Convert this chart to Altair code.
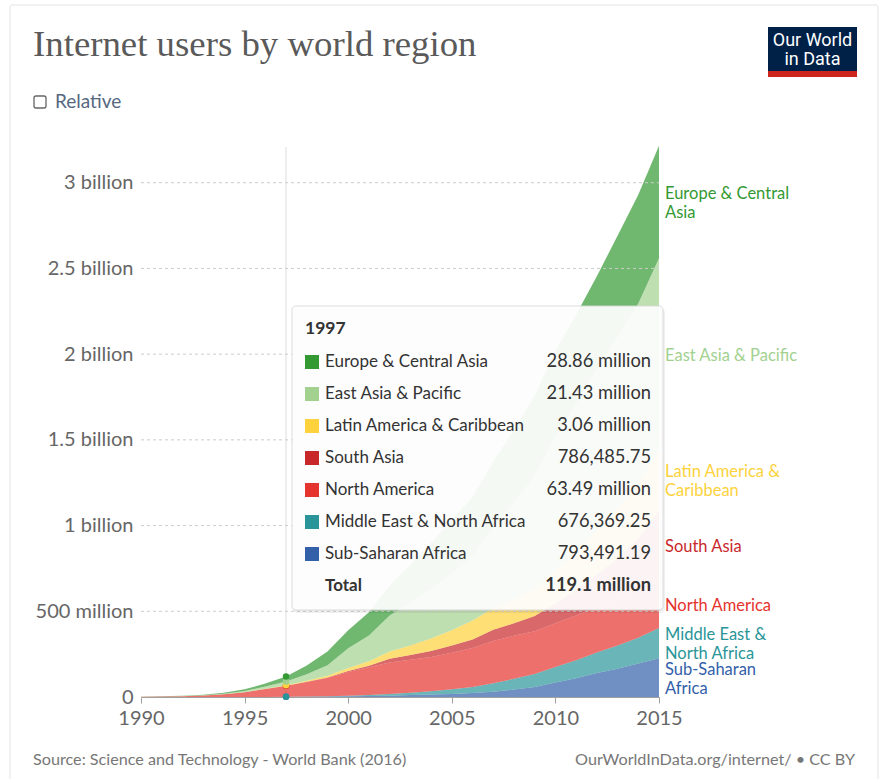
import altair as alt
import pandas as pd

# ---------------- data (millions of internet users) ----------------
years = list(range(1990, 2016))
regions = ["Sub-Saharan Africa", "Middle East & North Africa", "North America",
           "South Asia", "Latin America & Caribbean", "East Asia & Pacific",
           "Europe & Central Asia"]
label_text = ["Sub-Saharan\nAfrica", "Middle East &\nNorth Africa", "North America",
              "South Asia", "Latin America &\nCaribbean", "East Asia & Pacific",
              "Europe & Central\nAsia"]
colors = ["#3360a9", "#2a9598", "#e5332d", "#c9282b", "#fdd23c", "#a2d18f", "#339933"]

ssa = [0.0, 0.0, 0.01, 0.02, 0.05, 0.15, 0.4, 0.79349119, 1.4, 2.3, 4, 6, 8, 11, 14, 18,
       23, 30, 44, 58, 85, 110, 140, 165, 195, 226]
mena = [0.0, 0.0, 0.01, 0.02, 0.04, 0.1, 0.3, 0.67636925, 1.2, 2.2, 4, 6, 10, 14, 20, 27,
        35, 50, 62, 76, 90, 105, 120, 135, 150, 176]
na = [2.0, 3.2, 4.8, 9.0, 16, 27, 46, 63.49, 85, 106, 138, 162, 183, 192, 200, 213,
      228, 247, 252, 250, 255, 260, 265, 270, 275, 278]
sa = [0.0, 0.0, 0.0, 0.0, 0.01, 0.05, 0.3, 0.78648575, 1.5, 3, 6, 9, 22, 28, 35, 42,
      50, 65, 72, 88, 115, 150, 190, 240, 305, 410]
lac = [0.0, 0.02, 0.05, 0.1, 0.3, 0.7, 1.6, 3.06, 6, 10, 17, 26, 42, 55, 72, 90,
       110, 125, 140, 160, 195, 225, 260, 290, 320, 350]
eap = [0.2, 0.4, 0.8, 1.6, 3.2, 7.0, 12.5, 21.43, 37, 62, 115, 150, 210, 250, 290, 330,
       380, 470, 560, 660, 780, 860, 940, 1000, 1050, 1120]
eca = [0.4, 0.8, 1.4, 2.6, 5.2, 10, 17, 28.86, 52, 80, 106, 135, 175, 220, 270, 310,
       340, 385, 430, 465, 500, 520, 540, 590, 635, 655]
series = [ssa, mena, na, sa, lac, eap, eca]

y_ticks = [0, 5e8, 1e9, 1.5e9, 2e9, 2.5e9, 3e9]
x_ticks = [1990, 1995, 2000, 2005, 2010, 2015]
hover_year = 1997

# ---------------- tables ----------------
rows = []
for i, (r, s) in enumerate(zip(regions, series)):
    for y, v in zip(years, s):
        rows.append({"year": y, "region": r, "idx": i, "users": v * 1e6})
df = pd.DataFrame(rows)

last = len(years) - 1
hi = years.index(hover_year)
cum = 0.0
cum_h = 0.0
lab_rows, dot_rows = [], []
for i, (r, s) in enumerate(zip(regions, series)):
    lab_rows.append({"region": r, "text": label_text[i],
                     "lines": label_text[i].count("\n") + 1,
                     "mid": (cum + s[last] / 2) * 1e6})
    cum += s[last]
    cum_h += s[hi]
    dot_rows.append({"region": r, "idx": i, "year": hover_year, "top": cum_h * 1e6})
lab_df = pd.DataFrame(lab_rows)
dot_df = pd.DataFrame(dot_rows)
grid_df = pd.DataFrame({"v": y_ticks[1:]})


def fmt(v):
    return f"{v / 1e6:.4g} million" if v >= 1e6 else f"{v:,.2f}"


tt_rows = []
for k, i in enumerate(reversed(range(len(regions)))):
    v = series[i][hi] * 1e6
    tt_rows.append({"row": k, "region": regions[i], "name": regions[i], "val": fmt(v)})
total = sum(s[hi] for s in series) * 1e6
tt_df = pd.DataFrame(tt_rows)
tot_df = pd.DataFrame([{"row": len(regions), "name": "Total", "val": fmt(total)}])

one = pd.DataFrame({"a": [0]})
FONT = "Lato"

cscale = alt.Scale(domain=regions, range=colors)
xscale = alt.Scale(domain=[1990, 2015], nice=False, zero=False)
yscale = alt.Scale(domain=[0, 3.22e9], nice=False)

# ---------------- layers ----------------
card = alt.Chart(one).mark_rect(fill="white", fillOpacity=0, stroke="#e3e3e3",
                                strokeWidth=1, cornerRadius=2).encode(
    x=alt.value(-131), x2=alt.value(737), y=alt.value(-140), y2=alt.value(660))

vline = alt.Chart(pd.DataFrame({"year": [hover_year]})).mark_rule(color="#dddddd", strokeWidth=1).encode(
    x=alt.X("year:Q", scale=xscale), y=alt.value(2), y2=alt.value(552))

area = alt.Chart(df).mark_area(opacity=0.7, interpolate="linear").encode(
    x=alt.X("year:Q", scale=xscale,
            axis=alt.Axis(values=x_ticks, format="d", title=None, grid=False,
                          domainColor="#a0a0a0", tickColor="#a0a0a0", tickSize=6,
                          labelFontSize=20, labelColor="#666666", labelPadding=5,
                          labelFlush=False, labelOverlap=False, labelFont=FONT)),
    y=alt.Y("users:Q", stack="zero", scale=yscale,
            axis=alt.Axis(values=y_ticks, title=None, domain=False, ticks=False,
                          grid=False, labelFontSize=20, labelColor="#666666",
                          labelPadding=8, labelFont=FONT, labelFlush=False,
                          labelOverlap=False,
                          labelExpr="datum.value == 0 ? '0' : (datum.value < 1e9 ? (datum.value/1e6) + ' million' : (datum.value/1e9) + ' billion')")),
    color=alt.Color("region:N", scale=cscale, legend=None),
    order=alt.Order("idx:Q", sort="ascending"),
)

grid = alt.Chart(grid_df).mark_rule(color="#cccccc", strokeDash=[3, 3], strokeWidth=1).encode(
    y=alt.Y("v:Q", scale=yscale), x=alt.value(0), x2=alt.value(518))

dots = alt.Chart(dot_df).mark_circle(size=42, opacity=1).encode(
    x=alt.X("year:Q", scale=xscale),
    y=alt.Y("top:Q", scale=yscale),
    color=alt.Color("region:N", scale=cscale, legend=None),
    order=alt.Order("idx:Q"),
)

LAB_LH = 19
labels1 = alt.Chart(lab_df).transform_filter("datum.lines == 1").mark_text(
    align="left", baseline="middle", fontSize=16.5, font=FONT, dy=2).encode(
    x=alt.value(524),
    y=alt.Y("mid:Q", scale=yscale),
    text="text:N",
    color=alt.Color("region:N", scale=cscale, legend=None),
)
labels2 = alt.Chart(lab_df).transform_filter("datum.lines == 2").mark_text(
    align="left", baseline="middle", fontSize=16.5, font=FONT, lineBreak="\n",
    lineHeight=LAB_LH, dy=-LAB_LH / 2 + 1.5).encode(
    x=alt.value(524),
    y=alt.Y("mid:Q", scale=yscale),
    text="text:N",
    color=alt.Color("region:N", scale=cscale, legend=None),
)

# tooltip box
tt_shadow = alt.Chart(one).mark_rect(fill="#000000", opacity=0.06, cornerRadius=5).encode(
    x=alt.value(152), x2=alt.value(524), y=alt.value(163), y2=alt.value(468))
tt_box = alt.Chart(one).mark_rect(fill="white", opacity=0.93, stroke="#d9d9d9",
                                  strokeWidth=1, cornerRadius=4).encode(
    x=alt.value(151), x2=alt.value(522), y=alt.value(161), y2=alt.value(465))
tt_year = alt.Chart(one).mark_text(align="left", baseline="middle", fontSize=17.5,
                                   fontWeight="bold", color="#333333", font=FONT).encode(
    x=alt.value(164), y=alt.value(184), text=alt.value(str(hover_year)))

ROWY = "217 + 32 * datum.row"
tt_sw = alt.Chart(tt_df).transform_calculate(py=ROWY).mark_square(size=196, opacity=1).encode(
    x=alt.value(171), y=alt.Y("py:Q", scale=None, axis=None),
    color=alt.Color("region:N", scale=cscale, legend=None))
tt_name = alt.Chart(tt_df).transform_calculate(py=ROWY).mark_text(
    align="left", baseline="middle", fontSize=17, color="#333333", font=FONT).encode(
    x=alt.value(184), y=alt.Y("py:Q", scale=None, axis=None), text="name:N")
tt_val = alt.Chart(tt_df).transform_calculate(py=ROWY).mark_text(
    align="right", baseline="middle", fontSize=18.3, color="#333333", font=FONT).encode(
    x=alt.value(510), y=alt.Y("py:Q", scale=None, axis=None), text="val:N")
tt_tname = alt.Chart(tot_df).transform_calculate(py=ROWY).mark_text(
    align="left", baseline="middle", fontSize=17, fontWeight="bold", color="#333333", font=FONT).encode(
    x=alt.value(184), y=alt.Y("py:Q", scale=None, axis=None), text="name:N")
tt_tval = alt.Chart(tot_df).transform_calculate(py=ROWY).mark_text(
    align="right", baseline="middle", fontSize=18.3, fontWeight="bold", color="#333333", font=FONT).encode(
    x=alt.value(510), y=alt.Y("py:Q", scale=None, axis=None), text="val:N")

# header
title = alt.Chart(one).mark_text(align="left", baseline="alphabetic", fontSize=36.8,
                                 font="Liberation Serif", color="#5a5a5a").encode(
    x=alt.value(-108), y=alt.value(-89), text=alt.value("Internet users by world region"))
logo_bg = alt.Chart(one).mark_rect(fill="#002147").encode(
    x=alt.value(627), x2=alt.value(716), y=alt.value(-118), y2=alt.value(-68))
logo_red = alt.Chart(one).mark_rect(fill="#ce261e").encode(
    x=alt.value(627), x2=alt.value(716), y=alt.value(-74), y2=alt.value(-68))
logo_t1 = alt.Chart(one).mark_text(align="center", baseline="middle", fontSize=18,
                                   font="Roboto", color="white").encode(
    x=alt.value(671.5), y=alt.value(-104), text=alt.value("Our World"))
logo_t2 = alt.Chart(one).mark_text(align="center", baseline="middle", fontSize=18,
                                   font="Roboto", color="white").encode(
    x=alt.value(671.5), y=alt.value(-85), text=alt.value("in Data"))
chk = alt.Chart(one).mark_rect(fill="white", stroke="#666666", strokeWidth=1.3, cornerRadius=2).encode(
    x=alt.value(-107), x2=alt.value(-95), y=alt.value(-49), y2=alt.value(-37))
rel = alt.Chart(one).mark_text(align="left", baseline="middle", fontSize=19, font=FONT,
                               color="#56687f").encode(
    x=alt.value(-86), y=alt.value(-43), text=alt.value("Relative"))

# footer
src = alt.Chart(one).mark_text(align="left", baseline="middle", fontSize=16.2, font=FONT,
                               color="#777777").encode(
    x=alt.value(-108), y=alt.value(615),
    text=alt.value("Source: Science and Technology - World Bank (2016)"))
lic = alt.Chart(one).mark_text(align="right", baseline="middle", fontSize=16.2, font=FONT,
                               color="#777777").encode(
    x=alt.value(714), y=alt.value(615),
    text=alt.value("OurWorldInData.org/internet/ • CC BY"))

chart = alt.layer(
    card, vline, area, grid, dots, labels1, labels2,
    tt_shadow, tt_box, tt_year, tt_sw, tt_name, tt_val, tt_tname, tt_tval,
    title, logo_bg, logo_red, logo_t1, logo_t2, chk, rel, src, lic,
).properties(
    width=518, height=552,
    padding={"left": 141, "top": 145, "right": 230, "bottom": 82},
    autosize=alt.AutoSizeParams(type="none"),
    background="white",
).configure_view(stroke=None)

chart.save("out.html", embed_options={"renderer": "svg", "actions": False})
